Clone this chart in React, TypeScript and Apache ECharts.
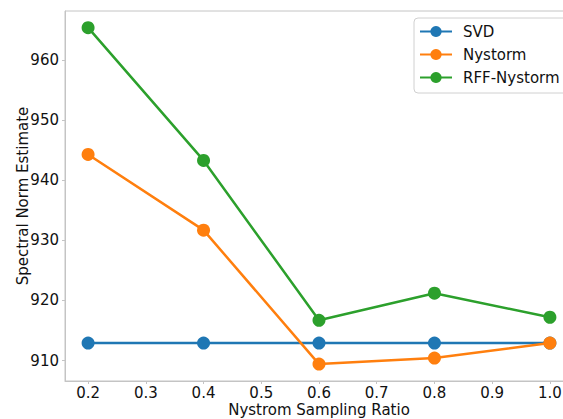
import React, { useEffect, useRef } from "react";
import * as echarts from "echarts";

const ratios = [0.2, 0.4, 0.6, 0.8, 1.0];
const svd = [912.9, 912.9, 912.9, 912.9, 912.9];
const nystorm = [944.3, 931.7, 909.4, 910.4, 912.9];
const rffNystorm = [965.4, 943.3, 916.7, 921.2, 917.2];
const xTicks = [0.2, 0.3, 0.4, 0.5, 0.6, 0.7, 0.8, 0.9, 1.0];
const yTicks = [910, 920, 930, 940, 950, 960];
const seriesNames = ["SVD", "Nystorm", "RFF-Nystorm"];
const colors = ["#1f77b4", "#ff7f0e", "#2ca02c"];

const FONT = "DejaVu Sans";
const FS = 15;

export default function App() {
  const ref = useRef<HTMLDivElement>(null);
  useEffect(() => {
    if (!ref.current) return;
    const chart = echarts.init(ref.current, null, { renderer: "svg" });
    const all = [svd, nystorm, rffNystorm];
    const mk = (vals: number[], i: number) => ({
      name: seriesNames[i],
      type: "line",
      data: ratios.map((r, k) => [r, vals[k]]),
      symbol: "circle",
      symbolSize: 13,
      lineStyle: { width: 2.5, color: colors[i] },
      itemStyle: { color: colors[i] },
      z: 2 + i,
    });
    chart.setOption({
      animation: false,
      backgroundColor: "#ffffff",
      textStyle: { fontFamily: FONT },
      grid: {
        left: 65,
        top: 11,
        width: 508,
        height: 370,
        show: true,
        borderColor: "#c4c4c4",
        borderWidth: 1,
        outerBoundsMode: "none",
        containLabel: false,
      },
      legend: {
        orient: "vertical",
        left: 414,
        top: 18,
        padding: [6, 10, 8, 5],
        itemWidth: 32,
        itemHeight: 14,
        itemGap: 8,
        borderColor: "#d0d0d0",
        borderWidth: 1,
        borderRadius: 4,
        backgroundColor: "#ffffff",
        textStyle: { fontFamily: FONT, fontSize: FS, color: "#111", padding: [0, 0, 0, 6] },
        data: seriesNames,
      },
      xAxis: {
        type: "value",
        min: 0.16,
        max: 1.04,
        name: "Nystrom Sampling Ratio",
        nameLocation: "middle",
        nameGap: 21,
        nameMoveOverlap: false,
        nameTextStyle: { fontFamily: FONT, fontSize: FS, color: "#111", lineHeight: 15 },
        axisLine: { show: true, lineStyle: { color: "#c4c4c4", width: 1 } },
        axisTick: { show: true, length: 3, lineStyle: { color: "#c4c4c4" }, customValues: xTicks },
        axisLabel: {
          fontFamily: FONT,
          fontSize: FS,
          lineHeight: 15,
          color: "#111",
          margin: 4,
          customValues: xTicks,
          formatter: (v: number) => v.toFixed(1),
        },
        splitLine: { show: false },
      },
      yAxis: {
        type: "value",
        min: 906.59,
        max: 968.17,
        name: "Spectral Norm Estimate",
        nameLocation: "middle",
        nameGap: 35,
        nameMoveOverlap: false,
        nameTextStyle: { fontFamily: FONT, fontSize: FS, color: "#111" },
        axisLine: { show: true, lineStyle: { color: "#c4c4c4", width: 1 } },
        axisTick: { show: true, length: 3, lineStyle: { color: "#c4c4c4" }, customValues: yTicks },
        axisLabel: {
          fontFamily: FONT,
          fontSize: FS,
          color: "#111",
          margin: 6,
          customValues: yTicks,
          formatter: (v: number) => String(Math.round(v)),
        },
        splitLine: { show: false },
      },
      series: all.map(mk),
    });
    return () => chart.dispose();
  }, []);
  return <div ref={ref} style={{ width: 563, height: 419, position: "absolute", left: 0, top: 0 }} />;
}
